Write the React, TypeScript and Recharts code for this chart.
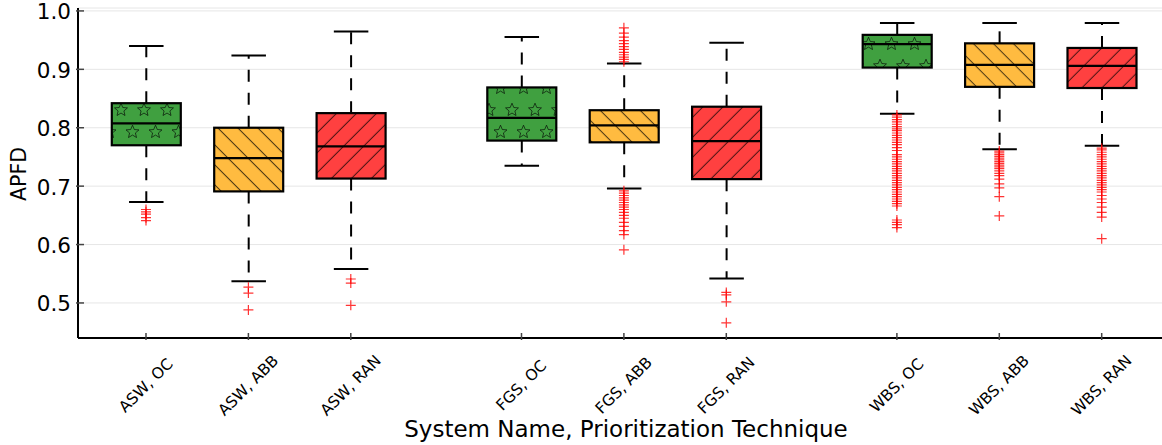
import React from "react";
import { ComposedChart, Bar, Scatter, XAxis, YAxis, CartesianGrid } from "recharts";

const labels = [
  "ASW, OC", "ASW, ABB", "ASW, RAN",
  "FGS, OC", "FGS, ABB", "FGS, RAN",
  "WBS, OC", "WBS, ABB", "WBS, RAN",
];
const positions = [1, 2, 3, 4.667, 5.667, 6.667, 8.333, 9.333, 10.333];
const techniques = ["OC", "ABB", "RAN", "OC", "ABB", "RAN", "OC", "ABB", "RAN"];

const lowCaps = [0.673, 0.537, 0.558, 0.735, 0.696, 0.542, 0.824, 0.763, 0.769];
const q1s = [0.77, 0.691, 0.713, 0.778, 0.775, 0.712, 0.903, 0.87, 0.868];
const medians = [0.8075, 0.748, 0.768, 0.817, 0.804, 0.777, 0.943, 0.9075, 0.906];
const q3s = [0.842, 0.8, 0.825, 0.869, 0.83, 0.836, 0.959, 0.9445, 0.9366];
const highCaps = [0.94, 0.9235, 0.9646, 0.9555, 0.91, 0.9457, 0.9795, 0.9795, 0.9795];

const outliers: number[][] = [
  [0.66, 0.656, 0.652, 0.646, 0.641],
  [0.527, 0.517, 0.488],
  [0.541, 0.534, 0.496],
  [],
  [
    0.971, 0.962, 0.955, 0.949, 0.944, 0.939, 0.934, 0.929, 0.925, 0.921, 0.917, 0.913,
    0.692, 0.688, 0.684, 0.68, 0.676, 0.672, 0.668, 0.664, 0.66, 0.655, 0.65, 0.645,
    0.638, 0.631, 0.624, 0.617, 0.591,
  ],
  [0.518, 0.514, 0.502, 0.466],
  [
    0.822, 0.818, 0.814, 0.81, 0.806, 0.802, 0.798, 0.795, 0.791, 0.787, 0.783, 0.779,
    0.775, 0.771, 0.766, 0.761, 0.754, 0.75, 0.746, 0.742, 0.738, 0.734, 0.73, 0.726,
    0.722, 0.718, 0.714, 0.71, 0.706, 0.702, 0.698, 0.694, 0.69, 0.686, 0.682, 0.678,
    0.674, 0.67, 0.666, 0.642, 0.638, 0.634, 0.629,
  ],
  [
    0.76, 0.757, 0.754, 0.751, 0.748, 0.745, 0.742, 0.739, 0.736, 0.733, 0.73, 0.726,
    0.722, 0.718, 0.712, 0.704, 0.697, 0.682, 0.649,
  ],
  [
    0.765, 0.762, 0.758, 0.754, 0.75, 0.746, 0.742, 0.738, 0.734, 0.73, 0.726, 0.722,
    0.718, 0.714, 0.71, 0.706, 0.702, 0.698, 0.694, 0.69, 0.684, 0.678, 0.672, 0.664,
    0.655, 0.647, 0.61,
  ],
];

const yTicks = [0.5, 0.6, 0.7, 0.8, 0.9, 1.0];

const boxes = labels.map((label, i) => ({
  label,
  pos: positions[i],
  tech: techniques[i],
  lowWhisker: [lowCaps[i], q1s[i]],
  highWhisker: [q3s[i], highCaps[i]],
  box: [q1s[i], q3s[i]],
  median: [q1s[i], medians[i]],
}));

const fliers = outliers.flatMap((vals, i) => vals.map((v) => ({ pos: positions[i], value: v })));

const FONT = "DejaVu Sans, sans-serif";
const X_DOMAIN = [0.336, 11.0];
const Y_DOMAIN = [0.44, 1.005];

function starPath(cx: number, cy: number, R: number) {
  const pts: string[] = [];
  for (let k = 0; k < 10; k++) {
    const r = k % 2 === 0 ? R : R * 0.45;
    const a = -Math.PI / 2 + (k * Math.PI) / 5;
    pts.push(`${(cx + r * Math.cos(a)).toFixed(2)},${(cy + r * Math.sin(a)).toFixed(2)}`);
  }
  return "M" + pts.join("L") + "Z";
}

function LowWhisker(p: any) {
  const cx = p.x + p.width / 2;
  const bottom = p.y + p.height;
  return (
    <g>
      <line x1={cx} x2={cx} y1={p.y} y2={bottom} stroke="#000" strokeWidth={2} strokeDasharray="12 11" />
      <line x1={cx - p.width / 4} x2={cx + p.width / 4} y1={bottom} y2={bottom} stroke="#000" strokeWidth={2} />
    </g>
  );
}

function HighWhisker(p: any) {
  const cx = p.x + p.width / 2;
  return (
    <g>
      <line x1={cx} x2={cx} y1={p.y + p.height} y2={p.y} stroke="#000" strokeWidth={2} strokeDasharray="12 11" />
      <line x1={cx - p.width / 4} x2={cx + p.width / 4} y1={p.y} y2={p.y} stroke="#000" strokeWidth={2} />
    </g>
  );
}

function BoxShape(p: any) {
  return (
    <rect
      x={p.x}
      y={p.y}
      width={p.width}
      height={p.height}
      fill={`url(#hatch-${p.payload.tech})`}
      stroke="#000"
      strokeWidth={2.2}
    />
  );
}

function MedianShape(p: any) {
  return <line x1={p.x} x2={p.x + p.width} y1={p.y} y2={p.y} stroke="#000" strokeWidth={2.2} />;
}

function PlusShape(p: any) {
  return (
    <path
      d={`M${p.cx - 5},${p.cy}H${p.cx + 5}M${p.cx},${p.cy - 5}V${p.cy + 5}`}
      stroke="#ff0000"
      strokeOpacity={0.8}
      strokeWidth={1.2}
      fill="none"
    />
  );
}

function BottomTick(p: any) {
  const i = positions.indexOf(p.payload.value);
  const ly = p.y + 45.5;
  return (
    <g>
      <line x1={p.x} x2={p.x} y1={p.y} y2={p.y - 7} stroke="#444" strokeWidth={1.5} />
      <text
        x={p.x}
        y={ly}
        transform={`rotate(-45 ${p.x} ${ly})`}
        textAnchor="middle"
        dominantBaseline="central"
        fontSize={15.5}
        fontFamily={FONT}
        fill="#000"
      >
        {labels[i]}
      </text>
    </g>
  );
}

function TopTick(p: any) {
  return <line x1={p.x} x2={p.x} y1={p.y} y2={p.y + 7} stroke="#444" strokeWidth={1.5} />;
}

function LeftTick(p: any) {
  return (
    <g>
      <line x1={p.x} x2={p.x + 8} y1={p.y} y2={p.y} stroke="#444" strokeWidth={1.5} />
      <text
        x={p.x - 5}
        y={p.y + 1}
        textAnchor="end"
        dominantBaseline="central"
        fontSize={21.5}
        fontFamily={FONT}
        fill="#000"
      >
        {Number(p.payload.value).toFixed(1)}
      </text>
    </g>
  );
}

function YLabel(p: any) {
  const vb = p.viewBox || { x: 0, y: 8, height: 330 };
  const x = vb.x + 26;
  const y = vb.y + vb.height / 2 + 1;
  return (
    <text x={x} y={y} transform={`rotate(-90 ${x} ${y})`} textAnchor="middle" fontSize={20.5} fontFamily={FONT} fill="#000">
      APFD
    </text>
  );
}

function XLabel(p: any) {
  const vb = p.viewBox || { x: 78, y: 338, width: 1092 };
  return (
    <text x={vb.x + vb.width / 2 + 2} y={vb.y + 98.7} textAnchor="middle" fontSize={23} fontFamily={FONT} fill="#000">
      System Name, Prioritization Technique
    </text>
  );
}

export default function App() {
  return (
    <div style={{ position: "absolute", left: 0, top: 0, width: 1162, height: 445, overflow: "hidden", background: "#fff" }}>
      <ComposedChart
        width={1170}
        height={445}
        data={boxes}
        margin={{ top: 8, right: 0, bottom: 0, left: 0 }}
        barGap={-69}
        style={{ fontFamily: FONT }}
      >
        <defs>
          <pattern id="hatch-OC" patternUnits="userSpaceOnUse" x={0} y={11} width={23} height={44}>
            <rect width={23} height={44} fill="#40a040" />
            <path d={starPath(6, 11, 6.8)} fill="none" stroke="#000" strokeOpacity={0.7} strokeWidth={0.9} />
            <path d={starPath(17.5, 33, 6.8)} fill="none" stroke="#000" strokeOpacity={0.7} strokeWidth={0.9} />
            <path d={starPath(-5.5, 33, 6.8)} fill="none" stroke="#000" strokeOpacity={0.7} strokeWidth={0.9} />
            <path d={starPath(29, 11, 6.8)} fill="none" stroke="#000" strokeOpacity={0.7} strokeWidth={0.9} />
          </pattern>
          <pattern id="hatch-ABB" patternUnits="userSpaceOnUse" width={14.14} height={14.14} patternTransform="rotate(-45)">
            <rect width={14.14} height={14.14} fill="#ffbb40" />
            <line x1={7} x2={7} y1={0} y2={14.14} stroke="#000" strokeOpacity={0.7} strokeWidth={1} />
          </pattern>
          <pattern id="hatch-RAN" patternUnits="userSpaceOnUse" width={14.14} height={14.14} patternTransform="rotate(45)">
            <rect width={14.14} height={14.14} fill="#ff4040" />
            <line x1={7} x2={7} y1={0} y2={14.14} stroke="#000" strokeOpacity={0.7} strokeWidth={1} />
          </pattern>
        </defs>
        <CartesianGrid vertical={false} stroke="#e6e6e6" strokeWidth={1} />
        <XAxis
          xAxisId="top"
          orientation="top"
          type="number"
          domain={X_DOMAIN}
          ticks={positions}
          allowDataOverflow
          height={0}
          tickSize={0}
          interval={0}
          tick={<TopTick />}
          tickLine={false}
          axisLine={{ stroke: "#000", strokeWidth: 2 }}
        />
        <XAxis
          dataKey="pos"
          type="number"
          domain={X_DOMAIN}
          ticks={positions}
          allowDataOverflow
          height={107}
          tickSize={0}
          interval={0}
          tick={<BottomTick />}
          tickLine={false}
          axisLine={{ stroke: "#000", strokeWidth: 2 }}
          label={<XLabel />}
        />
        <YAxis
          type="number"
          domain={Y_DOMAIN}
          ticks={yTicks}
          allowDataOverflow
          width={78}
          tickSize={0}
          interval={0}
          tick={<LeftTick />}
          tickLine={false}
          axisLine={{ stroke: "#000", strokeWidth: 2 }}
          label={<YLabel />}
        />
        <Bar dataKey="lowWhisker" barSize={69} shape={<LowWhisker />} isAnimationActive={false} />
        <Bar dataKey="highWhisker" barSize={69} shape={<HighWhisker />} isAnimationActive={false} />
        <Bar dataKey="box" barSize={69} shape={<BoxShape />} isAnimationActive={false} />
        <Bar dataKey="median" barSize={69} shape={<MedianShape />} isAnimationActive={false} />
        <Scatter data={fliers} dataKey="value" shape={<PlusShape />} isAnimationActive={false} />
      </ComposedChart>
    </div>
  );
}
